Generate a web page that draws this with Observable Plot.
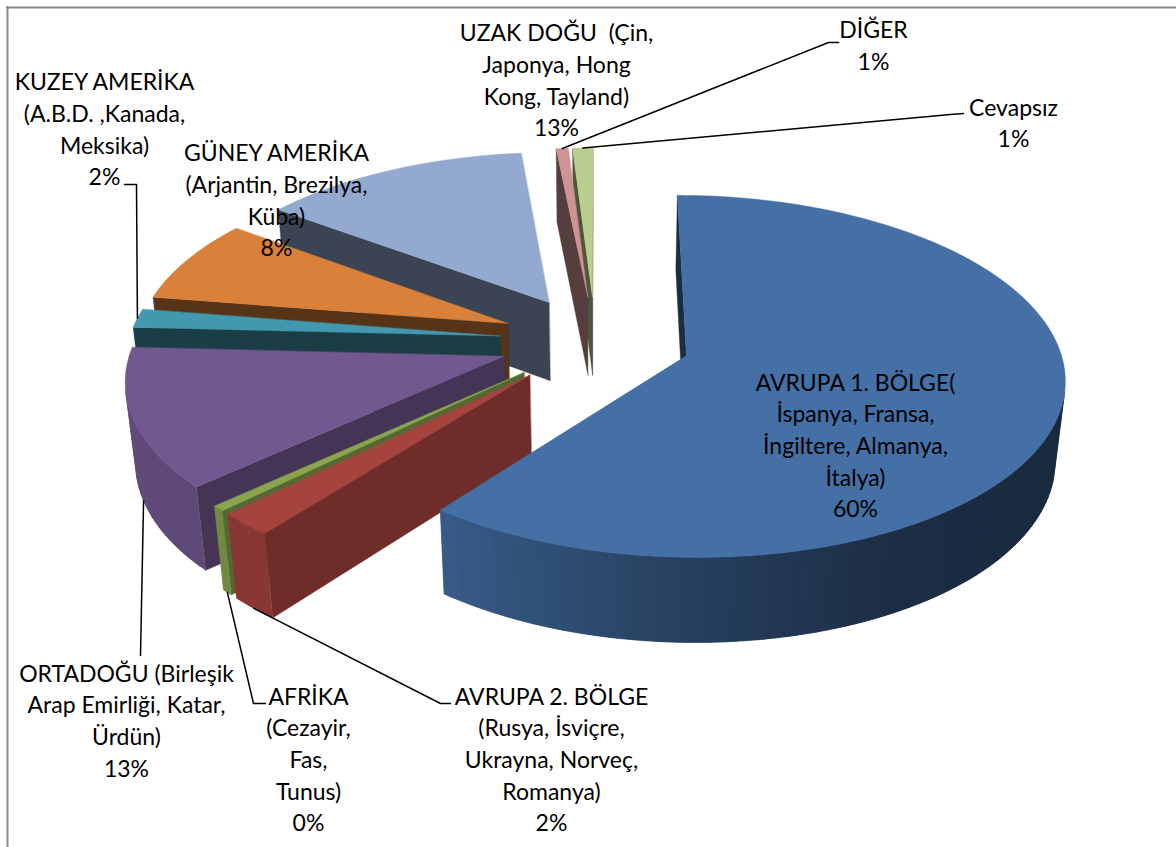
<!DOCTYPE html>
<html lang="tr">
<head>
<meta charset="utf-8">
<script src="https://cdn.jsdelivr.net/npm/d3@7"></script>
<script src="https://cdn.jsdelivr.net/npm/@observablehq/plot@0.6"></script>
<style>
html,body{margin:0;padding:0;background:#fff}
svg{display:block}
</style>
</head>
<body>
<div id="chart"></div>
<script>
// ---------- data ----------
const regions = [
  "AVRUPA 1. BÖLGE(\nİspanya, Fransa,\nİngiltere, Almanya,\nİtalya)",
  "AVRUPA 2. BÖLGE\n(Rusya, İsviçre,\nUkrayna, Norveç,\nRomanya)",
  "AFRİKA\n(Cezayir,\nFas,\nTunus)",
  "ORTADOĞU (Birleşik\nArap Emirliği, Katar,\nÜrdün)",
  "KUZEY AMERİKA\n(A.B.D. ,Kanada,\nMeksika)",
  "GÜNEY AMERİKA\n(Arjantin, Brezilya,\nKüba)",
  "UZAK DOĞU  (Çin,\nJaponya, Hong\nKong, Tayland)",
  "DİĞER",
  "Cevapsız"
];
const shares = [60.6, 2.1, 0.5, 12.6, 1.7, 7.6, 13.3, 0.6, 1.0];
const percentLabels = ["60%", "2%", "0%", "13%", "2%", "8%", "13%", "1%", "1%"];

// ---------- styles ----------
const topColors = ["#4470A6", "#A5433F", "#89A54E", "#71588F", "#4198AF", "#D9803A", "#93A9CF", "#D09393", "#BACE90"];
const wallShade = [0.40, 0.67, 0.63, 0.60, 0.40, 0.40, 0.40, 0.42, 0.42];
const rimShade = d3.scaleLinear().domain([90, 150, 180, 218, 272]).range([0.38, 0.40, 0.56, 0.82, 0.87]).clamp(true);

// ---------- perspective of the pie ----------
const cam = {ax: 598, x0: 87, rx: 377, y0: 355, ry: 138.6, k: 0.1154, eps: 0.022, drop: 89.3};
const pie = {cu: -0.2395, cv: -0.083, explode: 0.256, radius: 0.995};
const rad = Math.PI / 180;
const total = d3.sum(shares);
const slices = [];
shares.reduce((start, s, i) => {
  const end = start + s / total * 360;
  slices.push({i, start, end, mid: (start + end) / 2});
  return end;
}, 0);
function project(i, theta, r, low) {
  const m = slices[i].mid * rad;
  const U = pie.cu + pie.explode * Math.sin(m) + r * Math.sin(theta * rad);
  const V = pie.cv - pie.explode * Math.cos(m) - r * Math.cos(theta * rad);
  const w = 1 - cam.k * V + (low ? cam.eps : 0);
  return [cam.ax + (cam.x0 + cam.rx * U) / w, (cam.y0 + cam.ry * V + (low ? cam.drop : 0)) / w];
}
function area(p) {
  return d3.sum(p, (a, j) => { const b = p[(j + 1) % p.length]; return a[0] * b[1] - b[0] * a[1]; });
}

// ---------- faces, far slice first ----------
const rows = [];
let faceId = 0;
function addFace(pts, fill) {
  const face = faceId++;
  for (const [x, y] of pts) rows.push({x, y, face, fill});
}
for (const s of [...slices].reverse()) {
  const {i, start, end} = s, r = pie.radius;
  const base = d3.color(topColors[i]);
  const shade = f => d3.rgb(base.r * f, base.g * f, base.b * f).formatHex();
  const wall = t => [project(i, t, 0, false), project(i, t, r, false), project(i, t, r, true), project(i, t, 0, true)];
  const w0 = wall(start), w1 = wall(end);
  if (area(w0) < 0) addFace(w0, shade(wallShade[i]));
  if (area(w1) > 0) addFace(w1, shade(wallShade[i]));
  const n = Math.max(1, Math.ceil((end - start) / 1.5));
  const thetas = d3.range(n + 1).map(j => start + (end - start) * j / n);
  for (let j = 0; j < n; j++) {
    const a = thetas[j], b = thetas[j + 1];
    // every band runs under the next one, so no seam shows between them
    const over = Math.min(end, b + (end - start) / n);
    const q = [project(i, a, r, false), project(i, b, r, false), project(i, b, r, true), project(i, a, r, true)];
    if (area(q) < 0) {
      addFace([project(i, a, r, false), project(i, b, r, false), project(i, over, r, false),
               project(i, over, r, true), project(i, b, r, true), project(i, a, r, true)],
              shade(rimShade((a + b) / 2)));
    }
  }
  addFace([project(i, 0, 0, false), ...thetas.map(t => project(i, t, r, false))], topColors[i]);
}

// ---------- label layout ----------
const labelLayout = [
  {x: 855, y: 367.5}, {x: 551, y: 681.5}, {x: 308, y: 681.5}, {x: 126, y: 658.5}, {x: 104, y: 67},
  {x: 276, y: 138}, {x: 556, y: 18}, {x: 873, y: 15}, {x: 1013, y: 92.5}
];
const labelRows = regions.map((r, i) => ({text: r + "\n" + percentLabels[i], ...labelLayout[i]}));

// leader lines start on the rim at the slice's middle angle
const leaderLayout = [
  {i: 1, low: true,  via: [[440, 703], [450, 703]]},
  {i: 2, low: true,  via: [[253, 703], [265, 703]]},
  {i: 3, low: true,  via: [[140, 655]]},
  {i: 4, low: false, via: [[136, 184], [124, 184]]},
  {i: 7, low: false, via: [[828, 42], [838, 42]]},
  {i: 8, low: false, via: [[950, 114], [963, 113]]}
];
const leaderRows = leaderLayout.flatMap(l => {
  const pts = [project(l.i, slices[l.i].mid, pie.radius, l.low), ...l.via];
  return pts.map(([x, y]) => ({x, y, id: l.i}));
});

const chart = Plot.plot({
  width: 1176,
  height: 847,
  margin: 0,
  style: {background: "#fff"},
  x: {domain: [0, 1176], axis: null},
  y: {domain: [847, 0], axis: null},
  color: {type: "identity"},
  marks: [
    Plot.ruleX([7], {y1: 6, y2: 847, stroke: "#8a8a8a", strokeWidth: 2}),
    Plot.ruleY([7], {x1: 6, x2: 1176, stroke: "#8a8a8a", strokeWidth: 2}),
    Plot.line(rows, {x: "x", y: "y", z: "face", fill: "fill", stroke: "fill", strokeWidth: 0.4, curve: "linear-closed"}),
    Plot.line(leaderRows, {x: "x", y: "y", z: "id", stroke: "#000", strokeWidth: 1.5, curve: "linear"}),
    Plot.text(labelRows, {
      x: "x", y: "y", text: "text", lineAnchor: "top", textAnchor: "middle",
      fontFamily: "Lato", fontSize: 23, lineHeight: 1.38, fill: "#000"
    })
  ]
});
document.getElementById("chart").append(chart);
</script>
</body>
</html>
